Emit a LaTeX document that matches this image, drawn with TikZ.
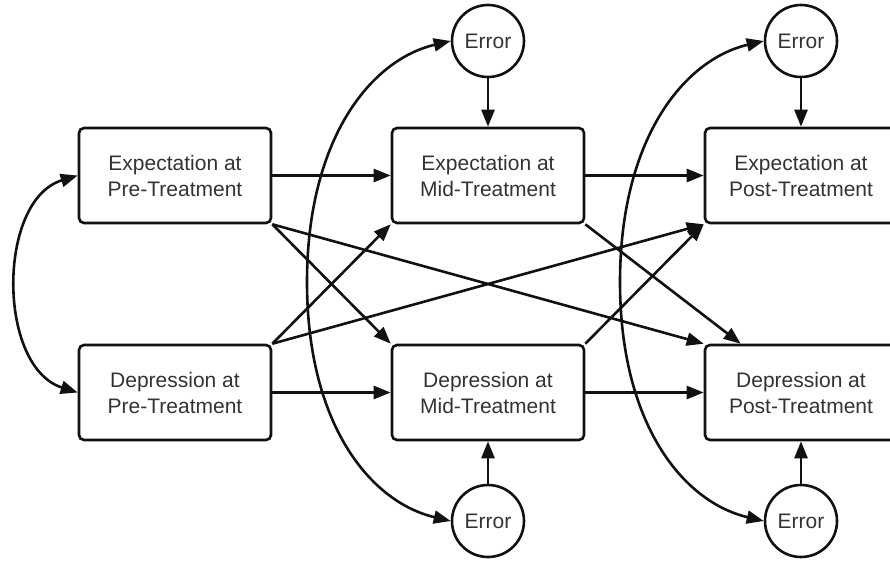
\documentclass[tikz,border=0pt]{standalone}
\usepackage{fontspec}
\setmainfont{Liberation Sans}
\usetikzlibrary{arrows.meta}
\definecolor{txt}{HTML}{333333}
\definecolor{ln}{HTML}{111111}
\begin{document}
\begin{tikzpicture}[x=1pt,y=-1pt,
  box/.style={draw=ln,line width=2.6pt,rounded corners=5pt,minimum width=192pt,minimum height=95pt,align=center,font=\fontsize{21}{26}\selectfont,text=txt},
  err/.style={draw=ln,circle,line width=2.6pt,minimum size=72pt,inner sep=0pt,font=\fontsize{21}{26}\selectfont,text=txt},
  arr/.style={draw=ln,line width=2.6pt,-{Triangle[length=17pt,width=13pt]}},
  darr/.style={draw=ln,line width=2.6pt,{Triangle[length=17pt,width=13pt]}-{Triangle[length=17pt,width=13pt]}}]
\useasboundingbox[fill=white] (0,0) rectangle (890,564);
% boxes
\node[box] (pe) at (175,175.5) {Expectation at\\Pre-Treatment};
\node[box] (pd) at (175,392.5) {Depression at\\Pre-Treatment};
\node[box] (me) at (488,175.5) {Expectation at\\Mid-Treatment};
\node[box] (md) at (488,392.5) {Depression at\\Mid-Treatment};
\node[box] (oe) at (801,175.5) {Expectation at\\Post-Treatment};
\node[box] (od) at (801,392.5) {Depression at\\Post-Treatment};
% errors
\node[err] (e1) at (488,41) {Error};
\node[err] (e2) at (801,41) {Error};
\node[err] (e3) at (488,521) {Error};
\node[err] (e4) at (801,521) {Error};
% error paths
\draw[arr] (e1) -- (me);
\draw[arr] (e2) -- (oe);
\draw[arr] (e3) -- (md);
\draw[arr] (e4) -- (od);
% covariances
\draw[darr] (pe.west) .. controls (-3,200) and (-3,367) .. (pd.west);
\coordinate (m1) at (307,282);
\coordinate (m2) at (620,282);
\draw[darr] (e1.west) .. controls (370,60) and (307,140) .. (m1) .. controls (307,424) and (370,502) .. (e3.west);
\draw[darr] (e2.west) .. controls (683,60) and (620,140) .. (m2) .. controls (620,424) and (683,502) .. (e4.west);
% horizontal paths
\draw[arr] (pe) -- (me);
\draw[arr] (pd) -- (md);
\draw[arr] (me) -- (oe);
\draw[arr] (md) -- (od);
% cross paths
\draw[arr] (pe.south east) -- (md.north west);
\draw[arr] (pe.south east) -- (od.north west);
\draw[arr] (pd.north east) -- (me.south west);
\draw[arr] (pd.north east) -- (oe.south west);
\draw[arr] (me.south east) -- ([xshift=37pt]od.north west);
\draw[arr] (md.north east) -- (oe.south west);
\end{tikzpicture}
\end{document}
